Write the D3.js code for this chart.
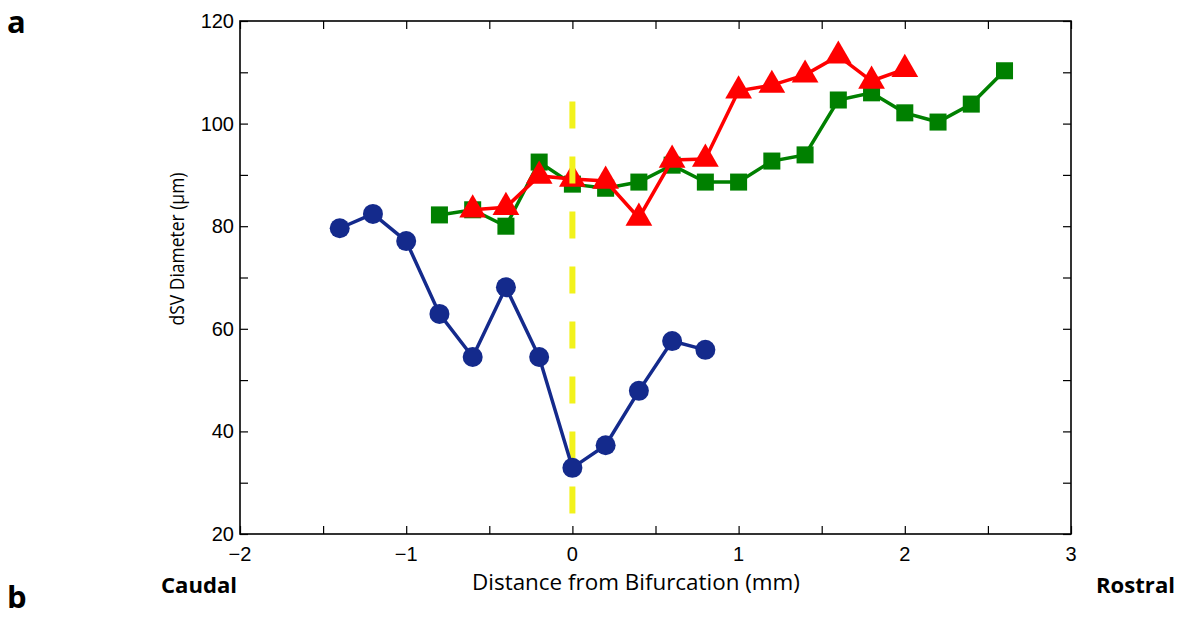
<!DOCTYPE html>
<html><head><meta charset="utf-8">
<script src="https://cdn.jsdelivr.net/npm/d3@7"></script>
<style>body{margin:0;background:#fff}svg{display:block}</style>
</head><body>
<svg id="c" width="1178" height="617"></svg>
<script>
const xTicks = [-2, -1, 0, 1, 2, 3];
const xMinorTicks = [-2, -1.5, -1, -0.5, 0, 0.5, 1, 1.5, 2, 2.5, 3];
const yTicks = [20, 40, 60, 80, 100, 120];
const yMinorTicks = [20, 30, 40, 50, 60, 70, 80, 90, 100, 110, 120];

const blueX = [-1.4, -1.2, -1.0, -0.8, -0.6, -0.4, -0.2, 0, 0.2, 0.4, 0.6, 0.8];
const blueY = [79.6, 82.4, 77.1, 62.9, 54.5, 68.1, 54.5, 32.9, 37.3, 47.9, 57.6, 55.9];

const greenX = [-0.8, -0.6, -0.4, -0.2, 0, 0.2, 0.4, 0.6, 0.8, 1.0, 1.2, 1.4, 1.6, 1.8, 2.0, 2.2, 2.4, 2.6];
const greenY = [82.2, 83.2, 80.0, 92.5, 88.2, 87.4, 88.6, 91.9, 88.6, 88.6, 92.7, 93.9, 104.6, 106.0, 102.1, 100.3, 103.8, 110.3];

const redX = [-0.6, -0.4, -0.2, 0, 0.2, 0.4, 0.6, 0.8, 1.0, 1.2, 1.4, 1.6, 1.8, 2.0];
const redY = [83.2, 83.7, 89.8, 89.2, 88.8, 81.6, 92.9, 93.1, 106.4, 107.5, 109.5, 113.2, 108.3, 110.6];

const bifurcationX = [0, 0];
const bifurcationY = [24, 105];

const svg = d3.select('#c');
const L = 240, R = 1071, T = 21, B = 534;
const x = d3.scaleLinear().domain([-2, 3]).range([L, R]);
const y = d3.scaleLinear().domain([20, 120]).range([B, T]);
const tickFont = '"Liberation Sans", Arial, sans-serif';
const labelFont = '"Open Sans", "Noto Sans", sans-serif';

// axes with inward ticks (box style)
const tl = 8;
svg.append('g').attr('transform', `translate(0,${B})`)
  .call(d3.axisBottom(x).tickValues(xMinorTicks).tickSize(-tl).tickFormat(''))
  .call(g => g.select('.domain').remove());
svg.append('g').attr('transform', `translate(0,${T})`)
  .call(d3.axisTop(x).tickValues(xMinorTicks).tickSize(-tl).tickFormat(''))
  .call(g => g.select('.domain').remove());
svg.append('g').attr('transform', `translate(${L},0)`)
  .call(d3.axisLeft(y).tickValues(yMinorTicks).tickSize(-tl).tickFormat(''))
  .call(g => g.select('.domain').remove());
svg.append('g').attr('transform', `translate(${R},0)`)
  .call(d3.axisRight(y).tickValues(yMinorTicks).tickSize(-tl).tickFormat(''))
  .call(g => g.select('.domain').remove());
svg.selectAll('.tick line').attr('stroke', '#000').attr('stroke-width', 1.2);

svg.append('rect').attr('x', L).attr('y', T).attr('width', R - L).attr('height', B - T)
  .attr('fill', 'none').attr('stroke', '#000').attr('stroke-width', 1.6);

// tick labels
svg.append('g').selectAll('text').data(xTicks).join('text')
  .attr('x', d => x(d)).attr('y', B + 27).attr('text-anchor', 'middle')
  .attr('font-family', tickFont).attr('font-size', 20)
  .text(d => d < 0 ? '\u2212' + Math.abs(d) : d);
svg.append('g').selectAll('text').data(yTicks).join('text')
  .attr('x', L - 6).attr('y', d => y(d) + 7).attr('text-anchor', 'end')
  .attr('font-family', tickFont).attr('font-size', 20)
  .text(d => d);

// helper: horizontally condense text to a target width (Myriad-like look)
function fitText(sel, cx, cy, width, rot) {
  const w = sel.node().getComputedTextLength();
  const s = width / w;
  sel.attr('x', 0).attr('y', 0)
    .attr('transform', `translate(${cx},${cy}) rotate(${rot}) scale(${s},1)`);
}

// axis labels
const xl = svg.append('text').attr('text-anchor', 'middle')
  .attr('font-family', labelFont).attr('font-size', 21)
  .text('Distance from Bifurcation (mm)');
fitText(xl, 636, 590, 328, 0);

const yl = svg.append('text').attr('text-anchor', 'middle')
  .attr('font-family', labelFont).attr('font-size', 20)
  .text('dSV Diameter (\u00b5m)');
fitText(yl, 184, 249, 153, -90);

const cd = svg.append('text').attr('text-anchor', 'start').attr('font-family', labelFont)
  .attr('font-weight', 'bold').attr('font-size', 21).text('Caudal');
cd.attr('transform', `translate(161,593) scale(${76 / cd.node().getComputedTextLength()},1)`);
const rs = svg.append('text').attr('text-anchor', 'end').attr('font-family', labelFont)
  .attr('font-weight', 'bold').attr('font-size', 21).text('Rostral');
rs.attr('transform', `translate(1175,593) scale(${79 / rs.node().getComputedTextLength()},1)`);

svg.append('text').attr('x', 7).attr('y', 33).attr('font-family', labelFont)
  .attr('font-weight', 'bold').attr('font-size', 31).text('a');
svg.append('text').attr('x', 7).attr('y', 608).attr('font-family', labelFont)
  .attr('font-weight', 'bold').attr('font-size', 31).text('b');

const line = d3.line().x(d => x(d[0])).y(d => y(d[1]));
const zip = (a, b) => a.map((v, i) => [v, b[i]]);

// green
const green = zip(greenX, greenY);
svg.append('path').datum(green).attr('d', line).attr('fill', 'none')
  .attr('stroke', '#008000').attr('stroke-width', 3.5);
svg.append('g').selectAll('path').data(green).join('path')
  .attr('d', d3.symbol(d3.symbolSquare, 290))
  .attr('transform', d => `translate(${x(d[0])},${y(d[1])})`).attr('fill', '#008000');

// red
const red = zip(redX, redY);
svg.append('path').datum(red).attr('d', line).attr('fill', 'none')
  .attr('stroke', '#ff0000').attr('stroke-width', 3.5);
svg.append('g').selectAll('path').data(red).join('path')
  .attr('d', d3.symbol(d3.symbolTriangle, 310))
  .attr('transform', d => `translate(${x(d[0])},${y(d[1])})`).attr('fill', '#ff0000');

// yellow dashed bifurcation line
svg.append('path').datum(zip(bifurcationX, bifurcationY)).attr('d', line)
  .attr('stroke', '#f2f21c').attr('stroke-width', 6).attr('stroke-dasharray', '27,28')
  .attr('fill', 'none');

// blue
const blue = zip(blueX, blueY);
svg.append('path').datum(blue).attr('d', line).attr('fill', 'none')
  .attr('stroke', '#142a8c').attr('stroke-width', 3.5);
svg.append('g').selectAll('circle').data(blue).join('circle')
  .attr('cx', d => x(d[0])).attr('cy', d => y(d[1])).attr('r', 10).attr('fill', '#142a8c');
</script>
</body></html>
